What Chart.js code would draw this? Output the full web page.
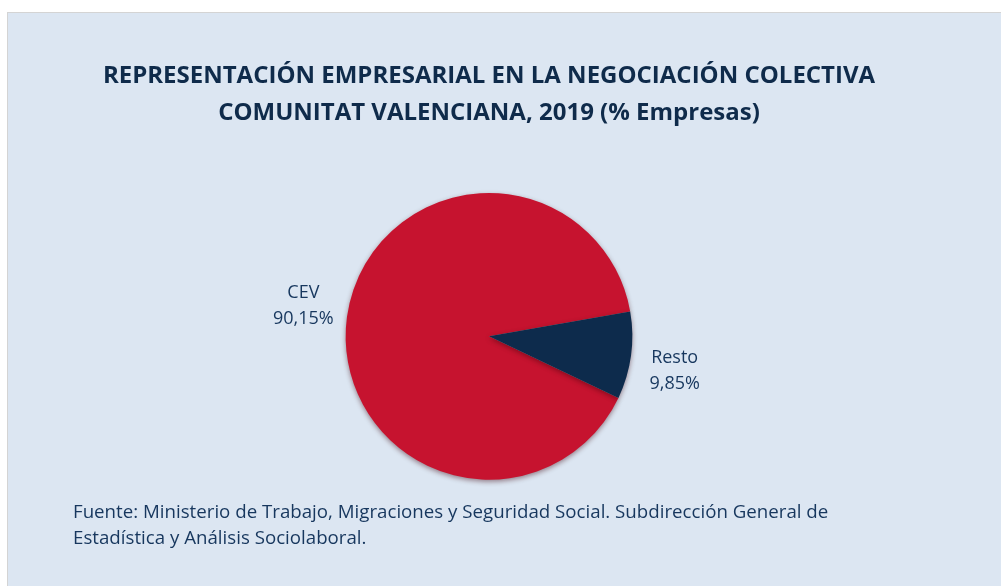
<!DOCTYPE html>
<html lang="es">
<head>
    <meta charset="UTF-8">
    <title>Representación empresarial</title>
    <script src="https://cdn.jsdelivr.net/npm/chart.js"></script>
    <style>
        body {
            margin: 0;
            background: #ffffff;
        }
        #box {
            position: absolute;
            left: 7px;
            top: 12px;
            width: 994px;
            height: 574px;
            border-left: 1px solid #d4d4d4;
            border-top: 1px solid #d4d4d4;
            background: #dce6f2;
        }
    </style>
</head>
<body>
    <div id="box">
        <canvas id="myChart" width="993" height="573"></canvas>
    </div>

    <script>
        const categories = ['CEV', 'Resto'];
        const shares = [90.15, 9.85];
        const sliceColors = ['#c6132f', '#0d2b4c'];
        const titleLines = [
            'REPRESENTACIÓN EMPRESARIAL EN LA NEGOCIACIÓN COLECTIVA',
            'COMUNITAT VALENCIANA, 2019 (% Empresas)'
        ];
        const sourceLines = [
            'Fuente: Ministerio de Trabajo, Migraciones y Seguridad Social. Subdirección General de',
            'Estadística y Análisis Sociolaboral.'
        ];

        const textColor = '#17375e';

        // etiquetas fuera del sector: nombre y porcentaje
        const outsideLabels = {
            id: 'outsideLabels',
            afterDatasetsDraw(chart) {
                const ctx = chart.ctx;
                const meta = chart.getDatasetMeta(0);
                ctx.save();
                ctx.font = '18px "Open Sans"';
                ctx.fillStyle = textColor;
                ctx.textAlign = 'center';
                ctx.textBaseline = 'middle';
                meta.data.forEach((arc, i) => {
                    const p = arc.getProps(['x', 'y', 'startAngle', 'endAngle', 'outerRadius'], true);
                    const mid = (p.startAngle + p.endAngle) / 2;
                    const d = p.outerRadius + 44;
                    const lx = p.x + Math.cos(mid) * d;
                    const ly = p.y + Math.sin(mid) * d * 1.3 + 2;
                    const value = shares[i].toFixed(2).replace('.', ',') + '%';
                    ctx.fillText(categories[i], lx, ly - 13);
                    ctx.fillText(value, lx, ly + 13);
                });
                ctx.restore();
            }
        };

        // sombra suave bajo la tarta
        const pieShadow = {
            id: 'pieShadow',
            beforeDatasetsDraw(chart) {
                const ctx = chart.ctx;
                ctx.save();
                ctx.shadowColor = 'rgba(60, 0, 10, 0.45)';
                ctx.shadowBlur = 5;
                ctx.shadowOffsetY = 2;
            },
            afterDatasetsDraw(chart) {
                chart.ctx.restore();
            }
        };

        const ctx = document.getElementById('myChart').getContext('2d');
        const myChart = new Chart(ctx, {
            type: 'pie',
            data: {
                labels: categories,
                datasets: [{
                    data: shares,
                    backgroundColor: sliceColors,
                    borderWidth: 0,
                    hoverOffset: 0
                }]
            },
            options: {
                responsive: false,
                animation: false,
                rotation: 115.46,
                layout: {
                    padding: { left: 65, right: 96, top: 0, bottom: 0 }
                },
                plugins: {
                    legend: { display: false },
                    tooltip: { enabled: false },
                    title: {
                        display: true,
                        text: titleLines,
                        color: '#0f2b4b',
                        font: { family: '"Open Sans"', size: 24, weight: 'bold', lineHeight: 1.54 },
                        padding: { top: 45, bottom: 61 }
                    },
                    subtitle: {
                        display: true,
                        position: 'bottom',
                        align: 'start',
                        text: sourceLines,
                        color: textColor,
                        font: { family: '"Open Sans"', size: 18.7, weight: 'normal', lineHeight: 1.4 },
                        padding: { top: 20, bottom: 34 }
                    }
                }
            },
            plugins: [pieShadow, outsideLabels]
        });
    </script>
</body>
</html>
